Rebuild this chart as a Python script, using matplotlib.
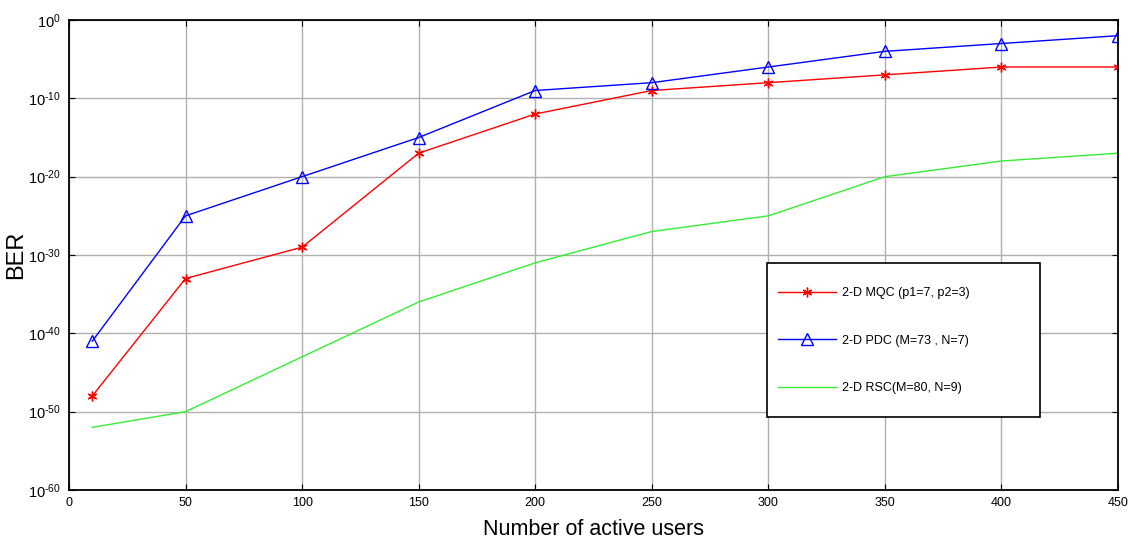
import matplotlib.pyplot as plt
import matplotlib.patches as mpatches
import numpy as np

plt.rcParams['font.family'] = ['Liberation Sans', 'DejaVu Sans']
plt.rcParams['mathtext.fontset'] = 'custom'
plt.rcParams['mathtext.rm'] = 'Liberation Sans'
plt.rcParams['mathtext.it'] = 'Liberation Sans'
plt.rcParams['mathtext.bf'] = 'Liberation Sans'

# number of active users
users = [10, 50, 100, 150, 200, 250, 300, 350, 400, 450]

# BER exponents (log10)
mqc_exp = [-48, -33, -29, -17, -12, -9, -8, -7, -6, -6]
pdc_exp = [-41, -25, -20, -15, -9, -8, -6, -4, -3, -2]
rsc_exp = [-52, -50, -43, -36, -31, -27, -25, -20, -18, -17]

mqc = 10.0 ** np.array(mqc_exp, dtype=float)
pdc = 10.0 ** np.array(pdc_exp, dtype=float)
rsc = 10.0 ** np.array(rsc_exp, dtype=float)

xticks = [0, 50, 100, 150, 200, 250, 300, 350, 400, 450]
ydecades = [0, -10, -20, -30, -40, -50, -60]

fig = plt.figure(figsize=(11.34, 5.38), dpi=100)
ax = fig.add_axes([0.0608, 0.0892, 0.9251, 0.8736])

ax.semilogy(users, mqc, color='red', lw=1, marker=(6, 2, 0), ms=7, mew=1,
            label='2-D MQC (p1=7, p2=3)')
ax.semilogy(users, pdc, color='blue', lw=1, marker='^', ms=8, mfc='none', mew=1,
            label='2-D PDC (M=73 , N=7)')
ax.semilogy(users, rsc, color='#33ee33', lw=1, label='2-D RSC(M=80, N=9)')

ax.set_xlim(0, 450)
ax.set_ylim(1e-60, 1)
ax.set_xticks(xticks)
ax.set_yticks([10.0 ** d for d in ydecades])
# short hyphen instead of the wide math minus, like the original labels
ylabels = ['$10^{0}$'] + ['$10^{\u2010%d}$' % abs(d) for d in ydecades[1:]]
ax.set_yticklabels(ylabels)
ax.yaxis.set_minor_locator(plt.NullLocator())
ax.tick_params(direction='in', top=True, right=True, labelsize=9, length=4, pad=5)
ax.tick_params(axis='y', labelsize=10.5, pad=6)
ax.grid(True, color='#b0b0b0', lw=1)
for s in ax.spines.values():
    s.set_linewidth(1.3)

ax.set_xlabel('Number of active users', fontsize=15.5, labelpad=7)
ax.set_ylabel('BER', fontsize=17)
ax.yaxis.set_label_coords(-0.04, 0.5)

# legend frame drawn separately so the box keeps its wide shape
box = mpatches.Rectangle((0.665, 0.155), 0.261, 0.328, transform=ax.transAxes,
                         facecolor='white', edgecolor='black', lw=1.2, zorder=4)
ax.add_patch(box)
leg = ax.legend(loc='upper left', bbox_to_anchor=(0.676, 0.432), fontsize=9,
                frameon=False, labelspacing=2.85, borderpad=0,
                handlelength=4.6, handletextpad=0.5, borderaxespad=0)
leg.set_zorder(5)

fig.savefig('out.png', dpi=100)
